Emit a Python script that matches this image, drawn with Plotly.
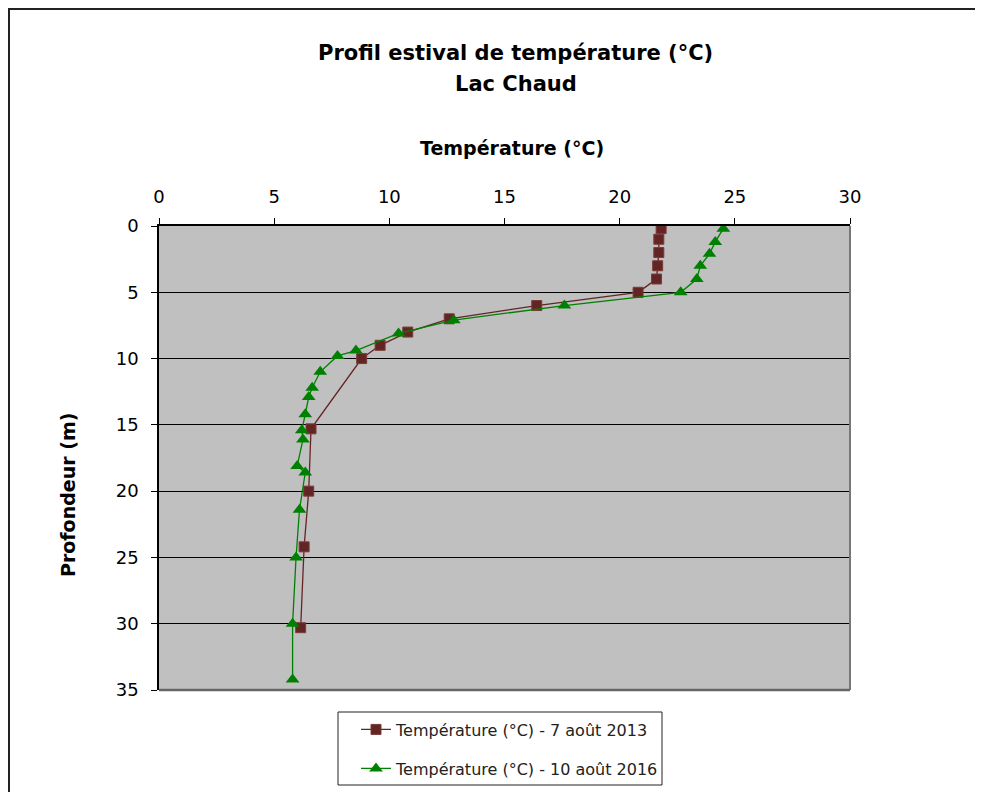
import plotly.graph_objects as go

# Data
depth_2013 = [0.2, 1, 2, 3, 4, 5, 6, 7, 8, 9, 10, 15.3, 20, 24.2, 30.3]
temp_2013 = [21.8, 21.7, 21.7, 21.65, 21.6, 20.8, 16.4, 12.6, 10.8, 9.6, 8.8, 6.6, 6.5, 6.3, 6.15]

depth_2016 = [0.2, 1.2, 2.1, 3, 4, 5, 6, 7.1, 8.1, 9.4, 9.8, 11, 12.2, 12.9, 14.2,
              15.4, 16.1, 18.1, 18.6, 21.4, 25, 30, 34.2]
temp_2016 = [24.5, 24.15, 23.9, 23.5, 23.35, 22.65, 17.6, 12.8, 10.4, 8.55, 7.75, 7.0,
             6.65, 6.5, 6.35, 6.2, 6.25, 6.0, 6.35, 6.1, 5.95, 5.8, 5.8]

name_2013 = "Température (°C) - 7 août 2013"
name_2016 = "Température (°C) - 10 août 2016"

x_ticks = [0, 5, 10, 15, 20, 25, 30]
y_ticks = [0, 5, 10, 15, 20, 25, 30, 35]

OFF = 8  # page body margin
W, H = 983 - OFF, 840  # figure taller than the window so the legend never pushes margins
L, R, T, B = 159, 850, 226, 690  # plot area in page pixel coords
pw, ph = R - L, B - T


def px(x):
    return (x - L) / pw


def py(y):
    return (B - y) / ph


fig = go.Figure()
fig.add_trace(go.Scatter(
    x=temp_2013, y=depth_2013, mode="lines+markers", name=name_2013,
    line=dict(color="#632523", width=1.3),
    marker=dict(symbol="square", size=10, color="#632523",
                line=dict(color="#7a3b39", width=1)),
    legend="legend",
))
fig.add_trace(go.Scatter(
    x=temp_2016, y=depth_2016, mode="lines+markers", name=name_2016,
    line=dict(color="#008000", width=1.3),
    marker=dict(symbol="triangle-up", size=12, color="#008000"),
    legend="legend2",
))

font_main = "DejaVu Sans"
font_bold = "DejaVu Sans"

fig.update_layout(
    width=W, height=H,
    margin=dict(l=L - OFF, r=W - (R - OFF), t=T - OFF, b=H - (B - OFF)),
    paper_bgcolor="white",
    plot_bgcolor="#c0c0c0",
    font=dict(family=font_main, size=17, color="black"),
    showlegend=True,
    legend=dict(x=px(356), y=py(729.5), xanchor="left", yanchor="middle",
                bgcolor="rgba(0,0,0,0)", borderwidth=0,
                font=dict(family=font_main, size=16, color="#222")),
    legend2=dict(x=px(356), y=py(768.5), xanchor="left", yanchor="middle",
                 bgcolor="rgba(0,0,0,0)", borderwidth=0,
                 font=dict(family=font_main, size=16, color="#222")),
    xaxis=dict(
        range=[0, 30], side="top", tickvals=x_ticks, ticktext=[str(v) for v in x_ticks],
        ticks="outside", ticklen=6, tickcolor="black", tickwidth=1,
        showline=True, linecolor="black", linewidth=1.5,
        showgrid=False, zeroline=False, ticklabelstandoff=8,
        tickfont=dict(family=font_main, size=18),
    ),
    yaxis=dict(
        range=[35, 0], tickvals=y_ticks, ticktext=[str(v) for v in y_ticks],
        ticks="outside", ticklen=6, tickcolor="black", tickwidth=1,
        showline=True, linecolor="black", linewidth=1.5,
        showgrid=True, gridcolor="black", gridwidth=1.2,
        zeroline=False, ticklabelstandoff=9,
        tickfont=dict(family=font_main, size=18),
    ),
)

shapes = [
    # outer chart frame
    dict(type="rect", xref="paper", yref="paper",
         x0=px(9), x1=px(1000), y0=py(830), y1=py(9),
         line=dict(color="#222", width=2), fillcolor="rgba(0,0,0,0)", layer="below"),
    # plot area right and bottom borders
    dict(type="line", xref="paper", yref="paper", x0=1, x1=1, y0=0, y1=1,
         line=dict(color="#777", width=2), layer="above"),
    dict(type="line", xref="paper", yref="paper", x0=0, x1=1, y0=0, y1=0,
         line=dict(color="#666", width=2.5), layer="above"),
    # legend box
    dict(type="rect", xref="paper", yref="paper",
         x0=px(338), x1=px(662), y0=py(785), y1=py(712),
         line=dict(color="#222", width=1), fillcolor="white", layer="below"),
]
fig.update_layout(shapes=shapes)

annotations = [
    dict(text="<b>Profil estival de température (°C)</b>", x=px(516), y=py(53),
         xref="paper", yref="paper", showarrow=False, xanchor="center", yanchor="middle",
         font=dict(family=font_bold, size=21, color="black")),
    dict(text="<b>Lac Chaud</b>", x=px(516), y=py(84),
         xref="paper", yref="paper", showarrow=False, xanchor="center", yanchor="middle",
         font=dict(family=font_bold, size=21, color="black")),
    dict(text="<b>Température (°C)</b>", x=px(512), y=py(148),
         xref="paper", yref="paper", showarrow=False, xanchor="center", yanchor="middle",
         font=dict(family=font_bold, size=19, color="black")),
    dict(text="<b>Profondeur (m)</b>", x=px(68), y=py(495), textangle=-90,
         xref="paper", yref="paper", showarrow=False, xanchor="center", yanchor="middle",
         font=dict(family=font_bold, size=19, color="black")),
]
fig.update_layout(annotations=annotations)

fig.write_html("out.html")
